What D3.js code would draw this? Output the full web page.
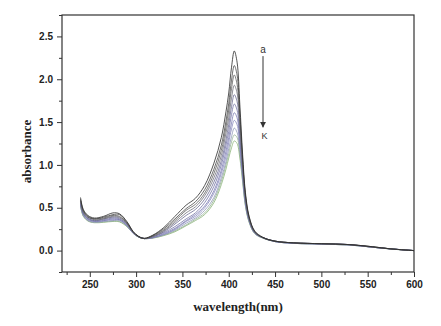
<!DOCTYPE html>
<html>
<head>
<meta charset="utf-8">
<script src="https://cdn.jsdelivr.net/npm/d3@7"></script>
<style>
html,body{margin:0;padding:0;background:#fff;}
svg{display:block;}
</style>
</head>
<body>
<svg id="chart" width="441" height="326"></svg>
<script>
// Wavelengths (nm) shared by all spectra
const wavelengths = [240,243,248,255,265,275,282,290,297,303,309,318,330,342,354,364,374,384,392,397,400,403,406,409,412,415,418,422,428,437,450,470,500,530,555,575,600];

// Absorbance spectra a .. k
const seriesA = [0.62,0.48,0.41,0.38,0.40,0.44,0.43,0.34,0.22,0.165,0.145,0.18,0.27,0.40,0.53,0.61,0.76,1.02,1.32,1.62,1.84,2.14,2.33,2.20,1.70,1.12,0.68,0.40,0.23,0.155,0.11,0.09,0.08,0.07,0.045,0.02,0.0];
const seriesB = [0.60,0.47,0.40,0.37,0.39,0.42,0.42,0.33,0.22,0.16,0.14,0.175,0.255,0.37,0.49,0.57,0.71,0.95,1.23,1.51,1.72,1.99,2.16,2.05,1.60,1.07,0.65,0.39,0.22,0.15,0.11,0.09,0.08,0.07,0.045,0.02,0.0];
const seriesC = [0.59,0.46,0.39,0.37,0.38,0.41,0.40,0.32,0.21,0.16,0.14,0.17,0.24,0.35,0.47,0.54,0.67,0.90,1.17,1.44,1.64,1.89,2.05,1.94,1.53,1.03,0.64,0.38,0.22,0.15,0.11,0.09,0.08,0.07,0.045,0.02,0.0];
const seriesD = [0.58,0.45,0.39,0.36,0.37,0.40,0.39,0.32,0.21,0.16,0.14,0.165,0.23,0.33,0.44,0.51,0.64,0.85,1.11,1.37,1.55,1.78,1.93,1.84,1.46,1.00,0.62,0.37,0.22,0.15,0.11,0.09,0.08,0.07,0.04,0.02,0.0];
const seriesE = [0.57,0.44,0.38,0.35,0.37,0.39,0.38,0.31,0.21,0.16,0.14,0.16,0.22,0.31,0.41,0.48,0.60,0.80,1.05,1.29,1.47,1.68,1.82,1.74,1.40,0.96,0.60,0.37,0.21,0.15,0.11,0.09,0.08,0.07,0.04,0.02,0.0];
const seriesF = [0.56,0.43,0.37,0.35,0.36,0.38,0.37,0.31,0.21,0.16,0.14,0.16,0.21,0.28,0.37,0.44,0.56,0.75,1.00,1.23,1.39,1.59,1.71,1.64,1.33,0.93,0.59,0.36,0.21,0.15,0.11,0.09,0.08,0.07,0.04,0.02,0.0];
const seriesG = [0.55,0.43,0.37,0.34,0.35,0.37,0.36,0.30,0.21,0.16,0.14,0.15,0.20,0.26,0.35,0.42,0.52,0.70,0.94,1.16,1.32,1.49,1.61,1.55,1.27,0.90,0.57,0.35,0.21,0.15,0.105,0.085,0.08,0.07,0.04,0.02,0.0];
const seriesH = [0.54,0.42,0.36,0.34,0.35,0.36,0.36,0.29,0.20,0.16,0.14,0.15,0.19,0.25,0.34,0.40,0.50,0.67,0.90,1.10,1.26,1.42,1.52,1.47,1.22,0.87,0.56,0.35,0.21,0.15,0.105,0.085,0.075,0.065,0.04,0.02,0.0];
const seriesI = [0.53,0.41,0.35,0.33,0.34,0.35,0.35,0.29,0.20,0.155,0.14,0.15,0.185,0.24,0.32,0.38,0.47,0.62,0.85,1.04,1.19,1.33,1.43,1.38,1.17,0.85,0.54,0.34,0.20,0.145,0.105,0.085,0.075,0.065,0.04,0.018,0.0];
const seriesJ = [0.525,0.405,0.35,0.33,0.335,0.345,0.34,0.285,0.20,0.155,0.14,0.147,0.18,0.23,0.30,0.365,0.44,0.59,0.81,1.00,1.13,1.27,1.35,1.32,1.12,0.82,0.53,0.335,0.20,0.145,0.105,0.085,0.075,0.065,0.04,0.018,0.0];
const seriesK = [0.52,0.40,0.345,0.325,0.33,0.34,0.335,0.28,0.20,0.155,0.14,0.145,0.175,0.22,0.29,0.35,0.42,0.56,0.77,0.95,1.08,1.20,1.28,1.25,1.08,0.80,0.52,0.33,0.20,0.145,0.105,0.085,0.075,0.065,0.04,0.018,0.0];

const seriesList = [seriesA,seriesB,seriesC,seriesD,seriesE,seriesF,seriesG,seriesH,seriesI,seriesJ,seriesK];
const seriesColors = ["#2a2a2a","#4a4a4a","#5e5e5e","#6e6e78","#6c6c92","#7474a4","#7c7cb2","#8686bc","#8e96b8","#92b092","#8cb478"];

const xTickValues = [250,300,350,400,450,500,550,600];
const yTickValues = [0.0,0.5,1.0,1.5,2.0,2.5];
const xMinorTicks = [225,275,325,375,425,475,525,575];
const yMinorTicks = [-0.25,0.25,0.75,1.25,1.75,2.25,2.75];
const xTitle = "wavelength(nm)";
const yTitle = "absorbance";
const arrowLabels = ["a","K"];

const svg = d3.select("#chart");
const mLeft = 62, mRight = 414, mTop = 15, mBottom = 272;
const x = d3.scaleLinear().domain([220,600]).range([mLeft,mRight]);
const y = d3.scaleLinear().domain([-0.25,2.75]).range([mBottom,mTop]);

const axisColor = "#333";

// spectra
const line = d3.line()
  .x((d,i) => x(wavelengths[i]))
  .y(d => y(d))
  .curve(d3.curveCatmullRom.alpha(0.5));

const order = d3.range(seriesList.length).reverse();
svg.append("g").selectAll("path")
  .data(order)
  .join("path")
  .attr("d", i => line(seriesList[i]))
  .attr("fill","none")
  .attr("stroke", i => seriesColors[i])
  .attr("stroke-width",0.8);

// frame
svg.append("rect")
  .attr("x",mLeft).attr("y",mTop)
  .attr("width",mRight-mLeft).attr("height",mBottom-mTop)
  .attr("fill","none").attr("stroke",axisColor).attr("stroke-width",1.2);

// axes
const xAxis = d3.axisBottom(x).tickValues(xTickValues).tickFormat(d3.format("d")).tickSize(5).tickPadding(4);
const gx = svg.append("g").attr("transform",`translate(0,${mBottom})`).call(xAxis);
const xMinor = d3.axisBottom(x).tickValues(xMinorTicks).tickFormat("").tickSize(3);
const gxm = svg.append("g").attr("transform",`translate(0,${mBottom})`).call(xMinor);

const yAxis = d3.axisLeft(y).tickValues(yTickValues).tickFormat(d3.format(".1f")).tickSize(5).tickPadding(4);
const gy = svg.append("g").attr("transform",`translate(${mLeft},0)`).call(yAxis);
const yMinor = d3.axisLeft(y).tickValues(yMinorTicks).tickFormat("").tickSize(3);
const gym = svg.append("g").attr("transform",`translate(${mLeft},0)`).call(yMinor);

[gx,gxm,gy,gym].forEach(g => {
  g.select(".domain").remove();
  g.selectAll(".tick line").attr("stroke",axisColor).attr("stroke-width",1);
  g.selectAll(".tick text")
    .attr("fill","#222")
    .style("font-family","Liberation Sans, Arial, sans-serif")
    .style("font-size","10px")
    .style("font-weight","bold");
});

// axis titles
svg.append("text")
  .attr("x",(mLeft+mRight)/2).attr("y",311)
  .attr("text-anchor","middle")
  .style("font-family","Liberation Serif, Times New Roman, serif")
  .style("font-size","13px").style("font-weight","bold")
  .attr("fill","#222")
  .text(xTitle);

svg.append("text")
  .attr("transform",`translate(31,${(mTop+mBottom)/2+8}) rotate(-90)`)
  .attr("text-anchor","middle")
  .style("font-family","Liberation Serif, Times New Roman, serif")
  .style("font-size","13px").style("font-weight","bold")
  .attr("fill","#222")
  .text(yTitle);

// arrow annotation
const defs = svg.append("defs");
defs.append("marker")
  .attr("id","arrowhead").attr("viewBox","0 0 10 10")
  .attr("refX",9).attr("refY",5)
  .attr("markerWidth",6).attr("markerHeight",7)
  .attr("markerUnits","userSpaceOnUse")
  .attr("orient","auto")
  .append("path").attr("d","M0,0 L10,5 L0,10 Z").attr("fill","#333");

const ax = x(437);
svg.append("line")
  .attr("x1",ax).attr("x2",ax)
  .attr("y1",y(2.27)).attr("y2",y(1.44))
  .attr("stroke","#333").attr("stroke-width",1)
  .attr("marker-end","url(#arrowhead)");

svg.append("text")
  .attr("x",ax).attr("y",y(2.305))
  .attr("text-anchor","middle")
  .style("font-family","Liberation Sans, Arial, sans-serif")
  .style("font-size","10px")
  .attr("fill","#333")
  .text(arrowLabels[0]);

svg.append("text")
  .attr("x",ax+1.5).attr("y",y(1.30))
  .attr("text-anchor","middle")
  .style("font-family","Liberation Sans, Arial, sans-serif")
  .style("font-size","9px")
  .attr("fill","#333")
  .text(arrowLabels[1]);
</script>
</body>
</html>
